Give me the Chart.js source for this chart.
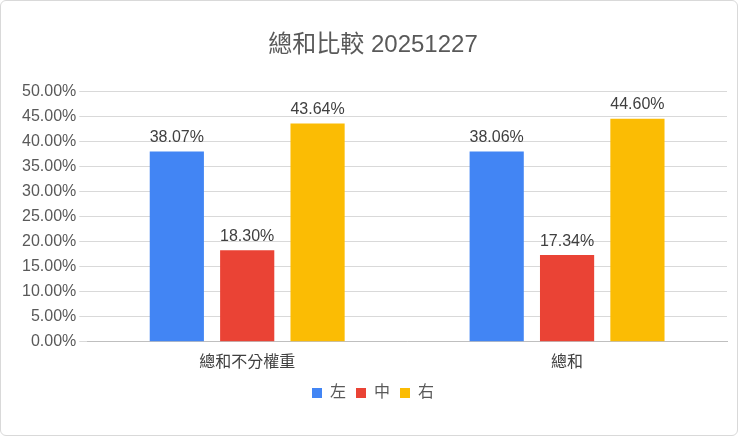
<!DOCTYPE html>
<html><head><meta charset="utf-8">
<script src="https://cdn.jsdelivr.net/npm/chart.js@4"></script>
<style>
html,body{margin:0;padding:0;background:#fff;}
#wrap{position:absolute;left:0;top:0;width:738px;height:436px;border:1px solid #d9d9d9;border-radius:6px;box-sizing:border-box;}
</style></head><body>
<div id="wrap"><canvas id="c" width="736" height="434"></canvas></div>
<script>
const categories = ['總和不分權重', '總和'];
const seriesNames = ['左', '中', '右'];
const leftValues = [0.3807, 0.3806];
const midValues = [0.1830, 0.1734];
const rightValues = [0.4364, 0.4460];
const colors = ['#4285F4', '#EA4335', '#FBBC04'];
const font = "'Liberation Sans','Noto Sans CJK TC',sans-serif";
Chart.defaults.font.family = font;
const labelPlugin = {
  id: 'labels',
  afterDatasetsDraw(chart) {
    const ctx = chart.ctx;
    ctx.save();
    ctx.font = "16px " + font;
    ctx.fillStyle = '#404040';
    ctx.textAlign = 'center';
    ctx.textBaseline = 'bottom';
    chart.data.datasets.forEach((ds, i) => {
      chart.getDatasetMeta(i).data.forEach((bar, j) => {
        ctx.fillText((ds.data[j] * 100).toFixed(2) + '%', bar.x, bar.y - 6);
      });
    });
    ctx.restore();
  }
};
const legendSpacer = { id: 'legendSpacer', beforeInit(chart) {
  const orig = chart.legend.fit;
  chart.legend.fit = function() { orig.bind(chart.legend)(); this.height += 22; };
} };
new Chart(document.getElementById('c'), {
  type: 'bar',
  data: {
    labels: categories,
    datasets: [leftValues, midValues, rightValues].map((d, i) => ({
      label: seriesNames[i], data: d, backgroundColor: colors[i],
      categoryPercentage: 0.66, barPercentage: 0.77
    }))
  },
  plugins: [labelPlugin, legendSpacer],
  options: {
    responsive: false, animation: false,
    layout: { padding: { left: 18, right: 10, top: 0, bottom: 2 } },
    plugins: {
      title: { display: true, text: '總和比較 20251227', color: '#595959',
        font: { size: 24, weight: 'normal' }, padding: { top: 30, bottom: 32 } },
      legend: { position: 'bottom', labels: { color: '#595959', font: { size: 16 },
        boxWidth: 10, boxHeight: 10, padding: 10 } },
      tooltip: { enabled: false }
    },
    scales: {
      y: { min: 0, max: 0.5, ticks: { stepSize: 0.05, color: '#595959', font: { size: 16 },
          callback: v => (v * 100).toFixed(2) + '%' },
        grid: { color: '#d9d9d9' }, border: { display: false } },
      x: { ticks: { color: '#404040', font: { size: 16 } },
        grid: { display: false }, border: { color: '#bfbfbf' } }
    }
  }
});
</script></body></html>
